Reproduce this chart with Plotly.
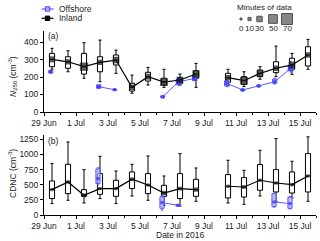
import plotly.graph_objects as go

# ---------------- data ----------------
days = ["2016-06-29", "2016-06-30", "2016-07-01", "2016-07-02", "2016-07-03", "2016-07-04",
        "2016-07-05", "2016-07-06", "2016-07-07", "2016-07-08", "2016-07-09", "2016-07-10",
        "2016-07-11", "2016-07-12", "2016-07-13", "2016-07-14", "2016-07-15"]

# Panel (a) N250, inland
a_in_med = [301, 287, 259, 284, 297, 141, 202, 171, 183, 217, None, 196, 179, 221, 250, 269, 326]
a_in_q1  = [259, 250, 217, 230, 269, 120, 177, 154, 164, 193, None, 170, 158, 202, 225, 244, 263]
a_in_q3  = [335, 316, 335, 316, 326, 164, 227, 193, 196, 236, None, 221, 202, 240, 287, 307, 373]
a_in_lo  = [245, 230, 193, 173, 221, 107, 154, 141, 154, 141, None, 149, 145, 187, 202, 215, 244]
a_in_hi  = [364, 350, 396, 411, 354, 211, 255, 244, 217, 278, None, 244, 230, 259, 377, 335, 415]
a_in_min = [35, 30, 55, 30, 40, 30, 35, 50, 40, 45, None, 30, 50, 40, 30, 40, 30]

# Panel (a) N250, offshore
a_off_med = [230, None, None, 145, 127, None, None, 87, 173, 192, None, 164, 126, 149, 173, 250, None]
a_off_q1  = [225, None, None, 140, 125, None, None, 84, 158, 185, None, 150, 122, 145, 165, 238, None]
a_off_q3  = [236, None, None, 150, 130, None, None, 90, 188, 200, None, 178, 130, 153, 188, 268, None]
a_off_lo  = [222, None, None, 137, 123, None, None, 82, 150, 180, None, 145, 120, 143, 160, 228, None]
a_off_hi  = [238, None, None, 153, 132, None, None, 92, 195, 205, None, 183, 132, 155, 192, 290, None]
a_off_min = [15, None, None, 25, 10, None, None, 15, 35, 30, None, 20, 10, 10, 15, 35, None]

# Panel (b) CDNC, inland
b_in_med = [419, 545, 325, 436, 436, 590, 495, 363, 436, 419, None, 474, 462, 573, 528, 501, 644]
b_in_q1  = [271, 353, 308, 342, 308, 436, 353, 308, 271, 308, None, 281, 297, 408, 380, 363, 380]
b_in_q3  = [561, 837, 419, 683, 573, 710, 683, 490, 683, 589, None, 667, 617, 832, 749, 710, 1013]
b_in_lo  = [188, 243, 198, 271, 188, 314, 243, 160, 149, 226, None, 198, 177, 314, 226, 281, 226]
b_in_hi  = [848, 1205, 749, 969, 726, 837, 974, 644, 1013, 776, None, 903, 738, 1068, 1261, 886, 1290]
b_in_min = [10, 12, 15, 10, 10, 15, 10, 20, 15, 20, None, 10, 15, 10, 10, 12, 10]

# Panel (b) CDNC, offshore
b_off_med = [None, None, None, 600, None, None, None, 205, 160, None, None, None, None, None, 215, 188, None]
b_off_q1  = [None, None, None, 520, None, None, None, 110, 148, None, None, None, None, None, 140, 110, None]
b_off_q3  = [None, None, None, 760, None, None, None, 300, 172, None, None, None, None, None, 350, 297, None]
b_off_lo  = [None, None, None, 500, None, None, None, 80, 145, None, None, None, None, None, 130, 100, None]
b_off_hi  = [None, None, None, 780, None, None, None, 320, 175, None, None, None, None, None, 360, 305, None]
b_off_min = [None, None, None, 10, None, None, None, 10, 8, None, None, None, None, None, 10, 10, None]

tick_vals = ["2016-06-29", "2016-07-01", "2016-07-03", "2016-07-05", "2016-07-07",
             "2016-07-09", "2016-07-11", "2016-07-13", "2016-07-15"]
tick_text = ["29 Jun", "1 Jul", "3 Jul", "5 Jul", "7 Jul", "9 Jul", "11 Jul", "13 Jul", "15 Jul"]
legend_minutes = [0, 10, 30, 50, 70]

# ---------------- styling ----------------
FONT = "Liberation Sans, Arial, sans-serif"
FS = 8.5
BLUE = "rgb(60,60,245)"
BLUE_LINE = "rgb(90,90,255)"
BLUE_FILL = "rgba(170,170,255,0.75)"
DAY_MS = 86400000

W, H = 320, 241
L, R, T, B = 44, 4, 31, 26
PW, PH = W - L - R, H - T - B


def px(x):
    return (x - L) / PW


def py(y):
    return (H - B - y) / PH


def size_of(m):
    return None if m is None else 2 + m * 8.0 / 70


def pos(d, hour):
    return f"{d} {hour:02d}:00"


fig = go.Figure()


def add_boxes(med, q1, q3, lo, hi, hour, xa, ya, fill, line, width_days):
    idx = [i for i, v in enumerate(med) if v is not None]
    fig.add_trace(go.Box(
        x=[pos(days[i], hour) for i in idx],
        q1=[q1[i] for i in idx], median=[med[i] for i in idx], q3=[q3[i] for i in idx],
        lowerfence=[lo[i] for i in idx], upperfence=[hi[i] for i in idx],
        width=width_days * DAY_MS, whiskerwidth=0.6,
        fillcolor=fill, line=dict(color=line, width=1),
        xaxis=xa, yaxis=ya, showlegend=False, hoverinfo="skip"))


def add_line(med, mins, hour, xa, ya, color, lcolor, lw):
    fig.add_trace(go.Scatter(
        x=[pos(d, hour) for d in days], y=med, mode="lines+markers",
        connectgaps=False,
        line=dict(color=lcolor, width=lw),
        marker=dict(symbol="square", size=[size_of(m) if m is not None else 0 for m in mins],
                    color=color, line=dict(width=0)),
        xaxis=xa, yaxis=ya, showlegend=False, hoverinfo="skip"))


# Panel (a)
add_boxes(a_in_med, a_in_q1, a_in_q3, a_in_lo, a_in_hi, 12, "x", "y", "white", "black", 0.32)
add_boxes(a_off_med, a_off_q1, a_off_q3, a_off_lo, a_off_hi, 10, "x", "y", BLUE_FILL, BLUE_LINE, 0.26)
add_line(a_off_med, a_off_min, 10, "x", "y", BLUE, BLUE_LINE, 1)
add_line(a_in_med, a_in_min, 12, "x", "y", "rgb(20,20,20)", "black", 1.2)

# Panel (b)
add_boxes(b_in_med, b_in_q1, b_in_q3, b_in_lo, b_in_hi, 12, "x2", "y2", "white", "black", 0.32)
add_boxes(b_off_med, b_off_q1, b_off_q3, b_off_lo, b_off_hi, 9, "x2", "y2", BLUE_FILL, BLUE_LINE, 0.26)
add_line(b_off_med, b_off_min, 9, "x2", "y2", BLUE, BLUE_LINE, 1)
add_line(b_in_med, b_in_min, 12, "x2", "y2", "rgb(20,20,20)", "black", 1.2)

xcommon = dict(type="date", range=["2016-06-29 00:00", "2016-07-16 00:00"],
               tickvals=tick_vals, ticktext=tick_text,
               showline=True, linecolor="black", linewidth=1,
               ticks="outside", ticklen=3, tickcolor="black", tickwidth=1,
               minor=dict(ticks="outside", ticklen=2, dtick=DAY_MS, tick0="2016-06-29",
                          tickcolor="black"),
               showgrid=False, zeroline=False,
               tickfont=dict(size=FS, color="#222", family=FONT))
ycommon = dict(showline=True, linecolor="black", linewidth=1, ticks="outside",
               ticklen=3, tickcolor="black", showgrid=False, zeroline=False,
               tickfont=dict(size=FS, color="#222", family=FONT))

top_lo = py(112)
bot_hi = py(135)

fig.update_layout(
    width=W, height=H, margin=dict(l=L, r=R, t=T, b=B),
    paper_bgcolor="white", plot_bgcolor="white",
    font=dict(family=FONT, size=FS, color="#222"),
    xaxis=dict(xcommon, anchor="y", domain=[0, 1]),
    yaxis=dict(ycommon, anchor="x", domain=[top_lo, 1], range=[0, 463],
               tickvals=[0, 100, 200, 300, 400]),
    xaxis2=dict(xcommon, anchor="y2", domain=[0, 1]),
    yaxis2=dict(ycommon, anchor="x2", domain=[0, bot_hi], range=[0, 1320],
                tickvals=[0, 250, 500, 750, 1000, 1250]),
    boxmode="overlay",
)

shapes = []
ann = []

# Series legend (manual)
for label, ycen, lc, fc, bc in [("Offshore", 9, BLUE_LINE, BLUE_FILL, BLUE),
                                ("Inland", 18.3, "black", "black", "black")]:
    shapes.append(dict(type="line", xref="paper", yref="paper",
                       x0=px(41.5), x1=px(53.5), y0=py(ycen), y1=py(ycen),
                       line=dict(color=lc, width=1.2)))
    shapes.append(dict(type="rect", xref="paper", yref="paper",
                       x0=px(45.3), x1=px(49.7), y0=py(ycen + 2.2), y1=py(ycen - 2.2),
                       fillcolor=fc, line=dict(color=bc, width=1)))
    ann.append(dict(text=label, xref="paper", yref="paper", x=px(57), y=py(ycen),
                    xanchor="left", yanchor="middle", showarrow=False,
                    font=dict(size=FS, family=FONT, color="#222")))

# Size legend (manual)
ann.append(dict(text="Minutes of data", xref="paper", yref="paper", x=px(264), y=py(7),
                xanchor="center", yanchor="middle", showarrow=False,
                font=dict(size=8, family=FONT, color="#222")))
leg_x = [241, 249.5, 259.5, 273, 287]
for m, cx in zip(legend_minutes, leg_x):
    s = size_of(m) + (1 if m >= 50 else 0)
    shapes.append(dict(type="rect", xref="paper", yref="paper",
                       x0=px(cx - s / 2), x1=px(cx + s / 2),
                       y0=py(19 + s / 2), y1=py(19 - s / 2),
                       fillcolor="rgb(135,135,135)", line=dict(color="rgb(80,80,80)", width=1)))
    ann.append(dict(text=str(m), xref="paper", yref="paper", x=px(cx), y=py(28.5),
                    xanchor="center", yanchor="middle", showarrow=False,
                    font=dict(size=8, family=FONT, color="#222")))

# Panel labels and axis titles
ann.append(dict(text="(a)", xref="paper", yref="paper", x=px(46), y=py(36.5),
                xanchor="left", yanchor="middle", showarrow=False,
                font=dict(size=FS, family=FONT, color="#222")))
ann.append(dict(text="(b)", xref="paper", yref="paper", x=px(46), y=py(141),
                xanchor="left", yanchor="middle", showarrow=False,
                font=dict(size=FS, family=FONT, color="#222")))
ann.append(dict(text="<i>N</i><sub>250</sub> (cm<sup>-3</sup>)", xref="paper", yref="paper",
                x=px(12), y=py(77), textangle=-90, xanchor="center", yanchor="middle",
                showarrow=False, font=dict(size=FS, family=FONT, color="#222")))
ann.append(dict(text="CDNC (cm<sup>-3</sup>)", xref="paper", yref="paper",
                x=px(12), y=py(174), textangle=-90, xanchor="center", yanchor="middle",
                showarrow=False, font=dict(size=FS, family=FONT, color="#222")))
ann.append(dict(text="Date in 2016", xref="paper", yref="paper", x=px(180), y=py(234.5),
                xanchor="center", yanchor="middle", showarrow=False,
                font=dict(size=FS, family=FONT, color="#222")))

fig.update_layout(shapes=shapes, annotations=ann)
fig.write_html("out.html", config={"displayModeBar": False},
               post_script="document.body.style.margin='0';document.body.style.overflow='hidden';")
